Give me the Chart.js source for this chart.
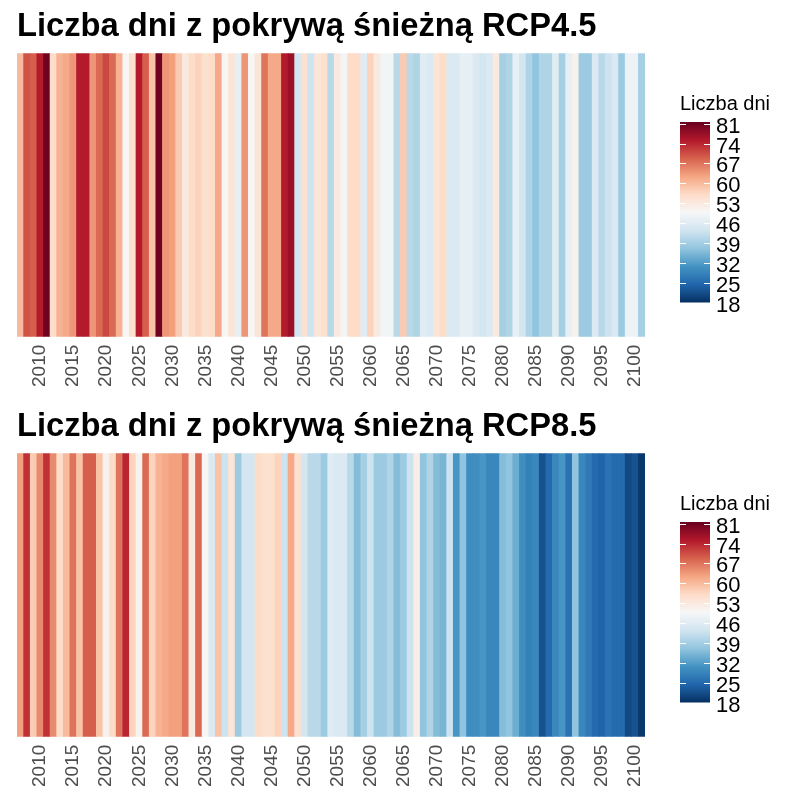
<!DOCTYPE html>
<html><head><meta charset="utf-8">
<script src="https://cdn.jsdelivr.net/npm/chart.js@4/dist/chart.umd.min.js"></script>
<style>html,body{margin:0;padding:0;background:#fff;width:800px;height:800px;overflow:hidden}canvas{display:block}</style>
</head><body>
<canvas id="c1" width="800" height="400"></canvas>
<canvas id="c2" width="800" height="400"></canvas>
<script>
const years = [2007,2008,2009,2010,2011,2012,2013,2014,2015,2016,2017,2018,2019,2020,2021,2022,2023,2024,2025,2026,2027,2028,2029,2030,2031,2032,2033,2034,2035,2036,2037,2038,2039,2040,2041,2042,2043,2044,2045,2046,2047,2048,2049,2050,2051,2052,2053,2054,2055,2056,2057,2058,2059,2060,2061,2062,2063,2064,2065,2066,2067,2068,2069,2070,2071,2072,2073,2074,2075,2076,2077,2078,2079,2080,2081,2082,2083,2084,2085,2086,2087,2088,2089,2090,2091,2092,2093,2094,2095,2096,2097,2098,2099,2100,2101];
const rcp45 = [60,70,69,75,81,56,61,62,64,75,75,64,68,71,68,61,50,55,75,69,59,81,64,63,58,53,56,57,55,56,62,50,54,47,64,50,54,67,62,62,75,77,44,55,43,54,55,41,53,49,56,56,46,57,53,49,49,41,58,41,40,46,45,54,56,45,45,47,47,45,44,45,53,39,40,47,44,40,37,40,40,46,39,47,51,38,38,45,41,43,45,38,48,48,39];
const rcp85 = [63,73,58,65,73,65,56,60,67,59,69,69,59,51,56,67,74,57,51,68,57,61,62,63,63,67,53,68,50,45,59,43,54,38,44,44,56,55,55,57,43,62,55,44,41,41,38,46,45,45,41,36,39,43,38,38,40,36,38,43,52,37,40,36,35,43,31,37,30,30,31,29,29,36,37,34,30,28,29,22,25,29,31,26,37,29,27,25,24,26,25,25,21,22,19];
const legendTicks = [81,74,67,60,53,46,39,32,25,18];
const titles = ['Liczba dni z pokrywą śnieżną RCP4.5','Liczba dni z pokrywą śnieżną RCP8.5'];
const legendTitle = 'Liczba dni';
const palette = ['#053061','#2166ac','#4393c3','#92c5de','#d1e5f0','#f7f7f7','#fddbc7','#f4a582','#d6604d','#b2182b','#67001f'];
const LIM_LO = 18, LIM_HI = 81.6;

function hex2rgb(h){return [1,3,5].map(i=>parseInt(h.substr(i,2),16));}
const palRGB = palette.map(hex2rgb);
function colorFor(v){
  let t = (v - LIM_LO)/(LIM_HI - LIM_LO);
  t = Math.max(0, Math.min(1, t));
  const p = t*(palRGB.length-1);
  const i = Math.min(Math.floor(p), palRGB.length-2);
  const f = p - i;
  const a = palRGB[i], b = palRGB[i+1];
  const c = a.map((x,k)=>Math.round(x + (b[k]-x)*f));
  return `rgb(${c[0]},${c[1]},${c[2]})`;
}

const FONT = "'Liberation Sans', Arial, sans-serif";
const BAR = {x0:680, x1:710, top:122, bottom:302.5};

const colorbarPlugin = {
  id:'colorbar',
  afterDraw(chart){
    const ctx = chart.ctx;
    ctx.save();
    ctx.fillStyle = '#000';
    ctx.font = `20px ${FONT}`;
    ctx.textAlign = 'left';
    ctx.textBaseline = 'alphabetic';
    ctx.fillText(legendTitle, BAR.x0, 110);
    const g = ctx.createLinearGradient(0, BAR.bottom, 0, BAR.top);
    for (let s=0; s<=40; s++){
      const v = LIM_LO + (LIM_HI-LIM_LO)*s/40;
      g.addColorStop(s/40, colorFor(v));
    }
    ctx.fillStyle = g;
    ctx.fillRect(BAR.x0, BAR.top, BAR.x1-BAR.x0, BAR.bottom-BAR.top);
    const yOf = v => BAR.bottom - (v-LIM_LO)/(LIM_HI-LIM_LO)*(BAR.bottom-BAR.top);
    ctx.strokeStyle = '#fff';
    ctx.lineWidth = 1;
    ctx.font = `22px ${FONT}`;
    ctx.fillStyle = '#000';
    ctx.textBaseline = 'middle';
    legendTicks.forEach(v=>{
      const y = Math.round(yOf(v))+0.5;
      ctx.beginPath();
      ctx.moveTo(BAR.x0, y); ctx.lineTo(BAR.x0+6, y);
      ctx.moveTo(BAR.x1-6, y); ctx.lineTo(BAR.x1, y);
      ctx.stroke();
      ctx.fillText(String(v), 716, y+2);
    });
    ctx.restore();
  }
};

function makeChart(id, values, title){
  new Chart(document.getElementById(id), {
    type:'bar',
    data:{
      labels: years,
      datasets:[{
        data: values.map(()=>1),
        backgroundColor: values.map(colorFor),
        borderWidth:0,
        barPercentage:1,
        categoryPercentage:1
      }]
    },
    options:{
      responsive:false,
      animation:false,
      devicePixelRatio:1,
      layout:{padding:{left:17,right:155,top:0,bottom:5}},
      plugins:{
        legend:{display:false},
        tooltip:{enabled:false},
        title:{display:true,text:title,align:'start',color:'#000',
          font:{family:FONT,size:32.7,weight:'bold'},padding:{top:7,bottom:7}}
      },
      scales:{
        x:{
          grid:{display:false,drawTicks:false},
          border:{display:false},
          ticks:{autoSkip:false,minRotation:90,maxRotation:90,padding:8,color:'#4d4d4d',
            font:{family:FONT,size:19},
            callback:(val,idx)=> years[idx]%5===0 ? String(years[idx]) : ''}
        },
        y:{display:false,min:0,max:1}
      }
    },
    plugins:[colorbarPlugin]
  });
}
makeChart('c1', rcp45, titles[0]);
makeChart('c2', rcp85, titles[1]);
</script>
</body></html>
